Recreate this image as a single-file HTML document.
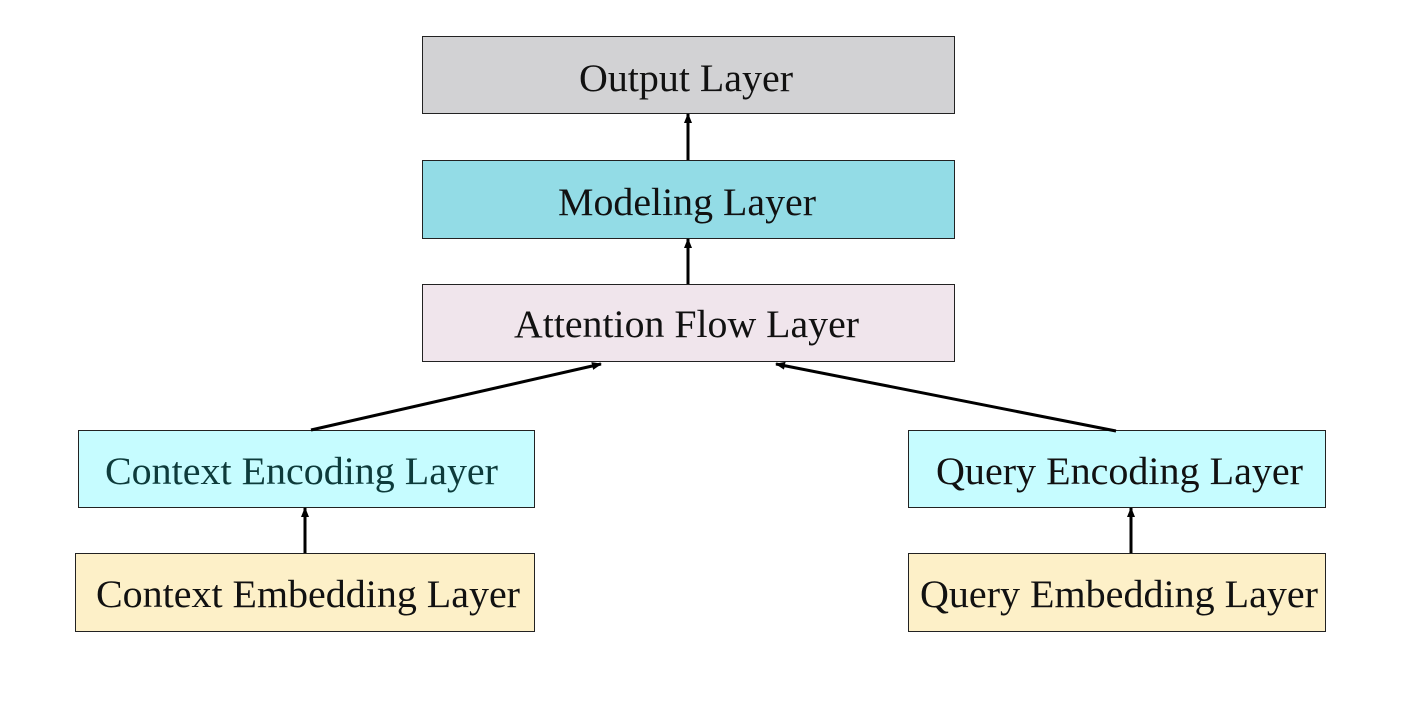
<!DOCTYPE html>
<html><head><meta charset="utf-8"><style>html,body{margin:0;padding:0;background:#fff}svg{display:block}</style></head>
<body>
<svg width="1406" height="714" viewBox="0 0 1406 714" xmlns="http://www.w3.org/2000/svg" font-family="Liberation Serif, serif" font-size="39">
<defs><marker id="a" markerWidth="10" markerHeight="8" refX="9" refY="4" orient="auto" markerUnits="userSpaceOnUse"><path d="M0,0 L10,4 L0,8 Z" fill="#000"/></marker></defs>
<rect x="422.5" y="36.5" width="532" height="77" fill="#d2d2d4" stroke="#222" stroke-width="1"/>
<rect x="422.5" y="160.5" width="532" height="78" fill="#93dce6" stroke="#222" stroke-width="1"/>
<rect x="422.5" y="284.5" width="532" height="77" fill="#f0e5ec" stroke="#222" stroke-width="1"/>
<rect x="78.5" y="430.5" width="456" height="77" fill="#c6fcff" stroke="#222" stroke-width="1"/>
<rect x="75.5" y="553.5" width="459" height="78" fill="#fdf0c8" stroke="#222" stroke-width="1"/>
<rect x="908.5" y="430.5" width="417" height="77" fill="#c6fcff" stroke="#222" stroke-width="1"/>
<rect x="908.5" y="553.5" width="417" height="78" fill="#fdf0c8" stroke="#222" stroke-width="1"/>
<g stroke="#000" stroke-width="3" fill="none" marker-end="url(#a)">
<line x1="688" y1="160" x2="688" y2="114"/>
<line x1="688" y1="284" x2="688" y2="239"/>
<line x1="311" y1="430" x2="601" y2="364"/>
<line x1="1116" y1="431" x2="776" y2="364"/>
<line x1="305" y1="553" x2="305" y2="508"/>
<line x1="1131" y1="553" x2="1131" y2="508"/>
</g>
<g fill="#111">
<text x="579" y="91" textLength="214" lengthAdjust="spacingAndGlyphs">Output Layer</text>
<text x="558" y="215" textLength="258" lengthAdjust="spacingAndGlyphs">Modeling Layer</text>
<text x="514" y="337" textLength="345" lengthAdjust="spacingAndGlyphs">Attention Flow Layer</text>
<text x="105" y="484" textLength="393" lengthAdjust="spacingAndGlyphs" fill="#0d3b3b">Context Encoding Layer</text>
<text x="96" y="607" textLength="424" lengthAdjust="spacingAndGlyphs">Context Embedding Layer</text>
<text x="936" y="484" textLength="367" lengthAdjust="spacingAndGlyphs">Query Encoding Layer</text>
<text x="920" y="607" textLength="398" lengthAdjust="spacingAndGlyphs">Query Embedding Layer</text>
</g>
</svg>
</body></html>
